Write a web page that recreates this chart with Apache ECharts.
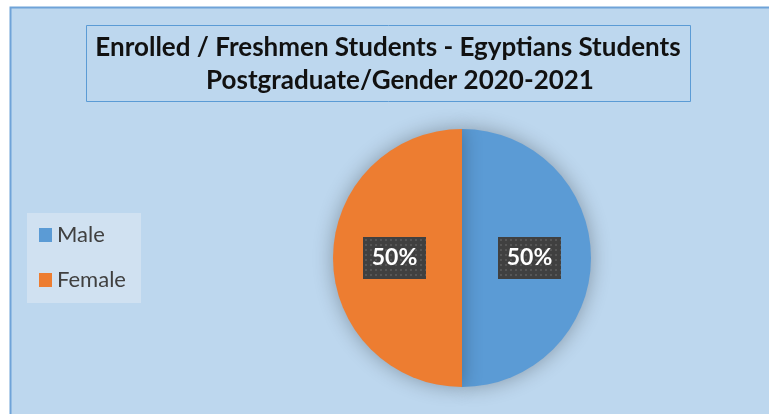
<!DOCTYPE html>
<html><head><meta charset="utf-8">
<script src="https://cdn.jsdelivr.net/npm/echarts@6/dist/echarts.min.js"></script>
<style>html,body{margin:0;padding:0;background:#fff}#c{width:769px;height:414px}</style>
</head><body><div id="c"></div>
<script>
const titleLines = ['Enrolled / Freshmen Students - Egyptians Students', 'Postgraduate/Gender 2020-2021'];
const categories = ['Male', 'Female'];
const values = [50, 50];
const colors = ['#5B9BD5', '#ED7D31'];

// dotted dark label background
const pat = document.createElement('canvas');
pat.width = 63; pat.height = 42;
const pc = pat.getContext('2d');
pc.fillStyle = '#404040'; pc.fillRect(0, 0, 63, 42);
pc.fillStyle = '#565656';
for (let y = 2; y < 42; y += 5) for (let x = 2; x < 63; x += 5) pc.fillRect(x, y, 2, 2);

const titleFont = { fontFamily: 'Lato', fontWeight: 'bold', fontSize: 26, fill: '#111111', textAlign: 'center', textVerticalAlign: 'top' };

const chart = echarts.init(document.getElementById('c'));
chart.setOption({
  backgroundColor: '#ffffff',
  graphic: [
    { type: 'rect', shape: { x: 10.5, y: 7.5, width: 770, height: 420 },
      style: { fill: '#BDD7EE', stroke: '#6FA3D8', lineWidth: 2 }, z: -10 },
    { type: 'rect', shape: { x: 27, y: 213, width: 114, height: 90 },
      style: { fill: '#D0E1F1' }, z: -5 },
    { type: 'rect', shape: { x: 86.5, y: 25.5, width: 604, height: 76 },
      style: { fill: '#BDD7EE', stroke: '#5B9BD5', lineWidth: 1 }, z: -4 },
    { type: 'text', x: 388, y: 35, style: Object.assign({ text: titleLines[0] }, titleFont), z: 5 },
    { type: 'text', x: 400, y: 68, style: Object.assign({ text: titleLines[1] }, titleFont), z: 5 }
  ],
  legend: {
    orient: 'vertical',
    left: 39,
    top: 222,
    padding: 0,
    itemWidth: 13,
    itemHeight: 14,
    itemGap: 19,
    icon: 'rect',
    data: categories,
    textStyle: { fontFamily: 'Lato', fontSize: 22, lineHeight: 26, color: '#404040' }
  },
  series: [{
    type: 'pie',
    center: [462, 258],
    radius: 129,
    startAngle: 90,
    clockwise: true,
    silent: true,
    data: categories.map((c, i) => ({ name: c, value: values[i], itemStyle: { color: colors[i] } })),
    itemStyle: { shadowBlur: 20, shadowColor: 'rgba(0,0,0,0.3)', shadowOffsetY: 0 },
    label: {
      position: 'inside',
      formatter: '{d}%',
      fontFamily: 'Lato',
      fontWeight: 'bold',
      fontSize: 23,
      lineHeight: 26,
      color: '#ffffff',
      backgroundColor: { image: pat },
      padding: [8, 8, 8, 8],
      width: 47,
      align: 'center',
      shadowBlur: 6,
      shadowColor: 'rgba(0,0,0,0.5)',
      shadowOffsetX: 3,
      shadowOffsetY: 3
    },
    labelLine: { show: false }
  }]
});
</script></body></html>
